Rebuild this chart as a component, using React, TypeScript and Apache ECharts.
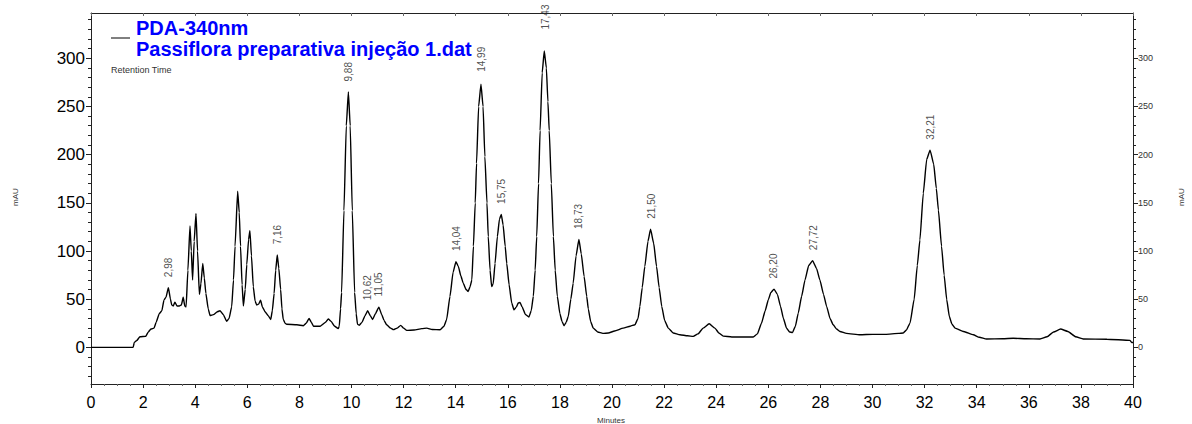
import React, { useEffect, useRef } from "react";
import * as echarts from "echarts";

// Retention time (minutes) and absorbance (mAU) of the trace
const times = [
  0, 1.62, 1.66, 1.75, 1.88, 2.1, 2.2, 2.3, 2.42, 2.5, 2.62, 2.72, 2.8, 2.88, 2.97, 3.05, 3.1, 3.16, 3.22, 3.3,
  3.39, 3.47, 3.54, 3.6, 3.65, 3.72, 3.8, 3.85, 3.9, 3.96, 4.03, 4.09, 4.16, 4.22, 4.29, 4.35, 4.41, 4.5, 4.57, 4.7,
  4.85, 4.95, 5.08, 5.21, 5.3, 5.4, 5.47, 5.53, 5.63, 5.69, 5.74, 5.8, 5.85, 5.92, 5.98, 6.05, 6.1, 6.16, 6.23, 6.3,
  6.36, 6.44, 6.51, 6.58, 6.68, 6.8, 6.9, 6.96, 7.03, 7.09, 7.15, 7.21, 7.28, 7.33, 7.38, 7.45, 7.51, 7.9, 8.15, 8.26,
  8.37, 8.46, 8.54, 8.8, 9.0, 9.11, 9.22, 9.35, 9.49, 9.53, 9.58, 9.62, 9.71, 9.8, 9.88, 9.95, 10.03, 10.12, 10.18, 10.23,
  10.3, 10.4, 10.52, 10.62, 10.72, 10.81, 10.92, 11.05, 11.16, 11.25, 11.35, 11.5, 11.61, 11.75, 11.89, 12.0, 12.12, 12.4, 12.7, 12.89,
  13.1, 13.4, 13.55, 13.65, 13.78, 13.9, 14.01, 14.1, 14.2, 14.29, 14.4, 14.48, 14.55, 14.62, 14.68, 14.75, 14.8, 14.88, 14.97, 15.05,
  15.12, 15.2, 15.25, 15.32, 15.38, 15.44, 15.51, 15.6, 15.68, 15.75, 15.82, 15.9, 15.96, 16.05, 16.15, 16.24, 16.33, 16.4, 16.47, 16.55,
  16.68, 16.81, 16.9, 16.98, 17.05, 17.11, 17.18, 17.24, 17.32, 17.4, 17.48, 17.54, 17.59, 17.67, 17.75, 17.82, 17.9, 18.0, 18.08, 18.16,
  18.24, 18.32, 18.42, 18.51, 18.62, 18.73, 18.82, 18.93, 19.03, 19.09, 19.18, 19.28, 19.45, 19.65, 19.86, 20.1, 20.43, 20.7, 20.88, 21.0,
  21.07, 21.16, 21.26, 21.38, 21.48, 21.6, 21.71, 21.81, 21.91, 22.02, 22.16, 22.35, 22.61, 22.9, 23.12, 23.3, 23.5, 23.73, 23.95, 24.1,
  24.27, 24.6, 25.0, 25.42, 25.58, 25.74, 25.88, 26.0, 26.1, 26.22, 26.35, 26.47, 26.58, 26.7, 26.82, 26.93, 27.04, 27.15, 27.28, 27.41,
  27.55, 27.7, 27.85, 27.98, 28.12, 28.24, 28.37, 28.49, 28.62, 28.75, 29.0, 29.52, 30.0, 30.5, 31.0, 31.18, 31.3, 31.44, 31.6, 31.72,
  31.82, 31.95, 32.08, 32.21, 32.35, 32.45, 32.53, 32.65, 32.75, 32.85, 32.95, 33.05, 33.17, 33.5, 33.87, 34.1, 34.38, 35.0, 35.4, 35.9,
  36.43, 36.7, 36.95, 37.22, 37.5, 37.8, 38.09, 39.0, 39.88, 39.95, 40,
];
const mAU = [
  0, 0, 5, 7, 11, 11.5, 16, 19, 20, 26, 35, 38, 49, 52, 62, 50, 44, 43, 47, 43,
  43, 44, 52, 43, 42, 80, 126, 100, 70, 110, 139, 100, 55, 66, 87, 72, 56, 40, 33, 34,
  37, 38, 34, 27, 30, 42, 70, 105, 162, 140, 105, 65, 43, 60, 86, 112, 121, 95, 63, 48,
  44, 45, 49, 42, 37, 33, 29, 38, 56, 80, 96, 82, 60, 40, 29, 25, 24, 23.5, 22.5, 25,
  30, 26, 22, 22, 26, 29.5, 27, 22, 19.5, 22, 40, 57, 142, 230, 265, 230, 142, 57, 35, 24,
  23, 26, 33, 38, 33, 29, 35, 41.8, 34, 28, 23.5, 20, 18.4, 20, 22.8, 20, 17.6, 18, 19.5, 20,
  18.5, 18.3, 22, 28.7, 52.8, 78, 89, 84, 74, 66.6, 60, 58, 63, 70, 105, 150, 191, 250, 273, 250,
  198, 150, 115, 80, 63, 66, 87, 115, 133, 138, 127, 105, 87, 65, 46, 39, 42, 46, 46.6, 42,
  34, 31.5, 38, 53, 80, 115, 170, 225, 285, 307.5, 290, 255, 225, 170, 115, 80, 53, 35, 27, 22.5,
  26, 32, 50, 66.6, 95, 112, 97, 73.5, 52.8, 40, 27, 20, 16, 14.5, 14.9, 17, 20, 22, 23.5, 30,
  42.5, 62, 84, 110, 122.6, 108, 84, 62, 42.5, 28, 20, 15, 13.1, 12, 11.4, 14, 20, 24.5, 20, 15,
  11.7, 10.8, 10.8, 10.8, 14, 25.2, 38, 49.4, 57, 60.5, 55, 42.5, 30, 20, 16, 15.5, 22, 35.6, 53, 70,
  85, 90, 82, 70, 55, 42.5, 30, 23.5, 19, 16.5, 14.5, 13.1, 13.5, 13.5, 14.5, 14.9, 18, 25.2, 50, 85,
  111.5, 160, 195, 204.7, 190, 165, 142.5, 105, 75, 49.4, 32, 24, 20, 16.5, 13.1, 10.5, 8.7, 9, 9.4, 9,
  8.7, 11, 16, 19, 16.5, 11, 8.7, 8.5, 7.3, 5, 5,
];

// Annotated peaks
const peakNames = ["2,98", "7,16", "9,88", "10,62", "11,05", "14,04", "14,99", "15,75", "17,43", "18,73", "21,50", "26,20", "27,72", "32,21"];
const peakTimes = [2.98, 7.16, 9.88, 10.62, 11.05, 14.04, 14.99, 15.75, 17.43, 18.73, 21.5, 26.2, 27.72, 32.21];
const peakHeights = [62, 96, 265, 38, 41.8, 89, 273, 138, 307.5, 112, 122.6, 60.5, 90, 204.7];

// Axis ticks
const xTicks = [0, 40, 2];
const yMajor = [0, 50, 100, 150, 200, 250, 300];
const yMinor = [-30, -20, -10, 10, 20, 30, 40, 60, 70, 80, 90, 110, 120, 130, 140, 160, 170, 180, 190, 210, 220, 230, 240, 260, 270, 280, 290, 310, 320, 330, 340];
const yRange = [-38, 347];

const FONT = "Liberation Sans, Arial, Helvetica, sans-serif";
const AX = "#222";

export default function App() {
  const ref = useRef<HTMLDivElement>(null);
  useEffect(() => {
    if (!ref.current) return;
    const chart = echarts.init(ref.current, null, { renderer: "svg" });
    const yBase = (position: string, labels: boolean, minor: boolean, fontSize: number) => ({
      type: "value",
      min: yRange[0],
      max: yRange[1],
      position,
      splitLine: { show: false },
      axisLine: { show: !minor, lineStyle: { color: AX, width: 1 } },
      axisTick: {
        show: true,
        customValues: minor ? yMinor : yMajor,
        length: minor ? 3 : 5,
        lineStyle: { color: AX, width: 1 },
      },
      axisLabel: labels
        ? {
            show: true,
            customValues: yMajor,
            fontSize,
            color: position === "left" ? "#000" : "#333",
            fontFamily: FONT,
            margin: position === "left" ? 6 : 5,
          }
        : { show: false },
    });
    chart.setOption({
      animation: false,
      backgroundColor: "#fff",
      grid: { left: 91, right: 59, top: 13, bottom: 40 },
      xAxis: [
        {
          type: "value",
          min: xTicks[0],
          max: xTicks[1],
          interval: xTicks[2],
          position: "bottom",
          splitLine: { show: false },
          axisLine: { show: true, onZero: false, lineStyle: { color: AX, width: 1 } },
          axisTick: { show: true, length: 4, lineStyle: { color: AX } },
          minorTick: { show: true, splitNumber: 4, length: 2, lineStyle: { color: "#666" } },
          axisLabel: { fontSize: 16, color: "#000", fontFamily: FONT, margin: 10 },
        },
        {
          type: "value",
          min: xTicks[0],
          max: xTicks[1],
          interval: xTicks[2],
          position: "top",
          splitLine: { show: false },
          axisLine: { show: true, onZero: false, lineStyle: { color: AX, width: 1 } },
          axisTick: { show: true, inside: true, length: 3, lineStyle: { color: "#666" } },
          axisLabel: { show: false },
        },
      ],
      yAxis: [
        yBase("left", true, false, 17),
        yBase("left", false, true, 17),
        yBase("right", true, false, 9),
        yBase("right", false, true, 9),
      ],
      series: [
        {
          type: "line",
          xAxisIndex: 0,
          yAxisIndex: 0,
          data: times.map((t, i) => [t, mAU[i]]),
          showSymbol: false,
          symbol: "none",
          smooth: 0.15,
          smoothMonotone: "x",
          lineStyle: { color: "#000", width: 1.4 },
          silent: true,
          z: 2,
        },
        {
          type: "scatter",
          xAxisIndex: 0,
          yAxisIndex: 0,
          symbolSize: 1,
          itemStyle: { color: "rgba(0,0,0,0)" },
          silent: true,
          z: 3,
          data: peakTimes.map((t, i) => ({
            value: [t, peakHeights[i]],
            name: peakNames[i],
            label: peakNames[i] === "17,43" ? { distance: 21 } : peakNames[i] === "14,99" ? { distance: 12 } : undefined,
          })),
          label: {
            show: true,
            formatter: (p: any) => p.name,
            position: "top",
            distance: 10,
            rotate: 90,
            align: "left",
            verticalAlign: "middle",
            fontSize: 10,
            color: "#222",
            fontFamily: FONT,
          },
        },
      ],
      graphic: [
        { type: "line", z: 100, shape: { x1: 111, y1: 38, x2: 130, y2: 38 }, style: { stroke: "#000", lineWidth: 1 } },
        {
          type: "text",
          z: 100,
          x: 136,
          y: 28,
          style: { text: "PDA-340nm", fill: "#0000ff", font: `bold 20px ${FONT}`, textVerticalAlign: "middle" },
        },
        {
          type: "text",
          z: 100,
          x: 136,
          y: 49,
          style: {
            text: "Passiflora preparativa injeção 1.dat",
            fill: "#0000ff",
            font: `bold 20px ${FONT}`,
            textVerticalAlign: "middle",
          },
        },
        {
          type: "text",
          z: 100,
          x: 111,
          y: 70,
          style: { text: "Retention Time", fill: "#333", font: `9px ${FONT}`, textVerticalAlign: "middle" },
        },
        {
          type: "text",
          x: 611,
          y: 420,
          style: { text: "Minutes", fill: "#333", font: `8px ${FONT}`, textAlign: "center", textVerticalAlign: "middle" },
        },
        {
          type: "text",
          x: 15,
          y: 197,
          rotation: Math.PI / 2,
          style: { text: "mAU", fill: "#333", font: `8px ${FONT}`, textAlign: "center", textVerticalAlign: "middle" },
        },
        {
          type: "text",
          x: 1181,
          y: 197,
          rotation: Math.PI / 2,
          style: { text: "mAU", fill: "#333", font: `8px ${FONT}`, textAlign: "center", textVerticalAlign: "middle" },
        },
      ],
    });
    return () => chart.dispose();
  }, []);
  return <div ref={ref} style={{ position: "fixed", left: 0, top: 0, width: 1192, height: 424, background: "#fff" }} />;
}
